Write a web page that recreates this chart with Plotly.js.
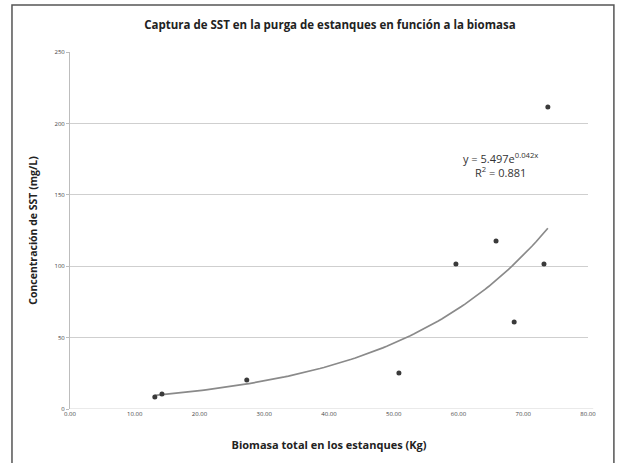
<!DOCTYPE html>
<html>
<head>
<meta charset="utf-8">
<script src="https://cdn.plot.ly/plotly-3.0.1.min.js"></script>
<style>html,body{margin:0;padding:0;background:#fff;}#chart{width:626px;height:463px;}</style>
</head>
<body>
<div id="chart"></div>
<script>
// Data
const biomasa = [13.1, 14.2, 27.3, 50.8, 59.6, 65.8, 68.6, 73.2, 73.8];
const sst = [8.4, 10.5, 20.3, 25.2, 101.5, 117.6, 60.9, 101.5, 211.5];
const xTickVals = [0, 10, 20, 30, 40, 50, 60, 70, 80];
const xTickText = ["0.00", "10.00", "20.00", "30.00", "40.00", "50.00", "60.00", "70.00", "80.00"];
const yTickVals = [0, 50, 100, 150, 200, 250];
const yTickText = ["0", "50", "100", "150", "200", "250"];
// Exponential trendline coefficients shown on the chart (y = a e^(b x))
const trendA = 5.497;
const trendB = 0.0425;

const xMin = Math.min(...biomasa), xMax = Math.max(...biomasa);
const trendX = [], trendY = [];
for (let i = 0; i <= 100; i++) {
  const x = xMin + (xMax - xMin) * i / 100;
  trendX.push(x);
  trendY.push(trendA * Math.exp(trendB * x));
}

const traces = [
  {x: trendX, y: trendY, mode: 'lines', type: 'scatter',
   line: {color: '#8a8a8a', width: 1.7}, hoverinfo: 'skip'},
  {x: biomasa, y: sst, mode: 'markers', type: 'scatter',
   marker: {color: '#3a3a3a', size: 5}}
];

const layout = {
  width: 626, height: 463,
  margin: {l: 70, r: 38, t: 52, b: 54},
  paper_bgcolor: '#ffffff', plot_bgcolor: '#ffffff',
  showlegend: false,
  font: {family: 'Open Sans, DejaVu Sans, sans-serif', color: '#333'},
  title: {text: '<b>Captura de SST en la purga de estanques en función a la biomasa</b>',
    font: {size: 11.5, color: '#222', family: 'Open Sans, sans-serif'},
    x: 0.527, xanchor: 'center', y: 0.947, yanchor: 'middle'},
  xaxis: {range: [0, 80], tickvals: xTickVals, ticktext: xTickText,
    showgrid: false, zeroline: false, showline: false,
    ticks: '', tickfont: {size: 6, color: '#444'},
    title: {text: '<b>Biomasa total en los estanques (Kg)</b>', font: {size: 11, color: '#222'}, standoff: 24}},
  yaxis: {range: [0, 250], tickvals: yTickVals, ticktext: yTickText,
    showgrid: true, gridcolor: '#cfcfcf', gridwidth: 1.3, zeroline: false,
    showline: true, linecolor: '#bdbdbd', linewidth: 1,
    ticks: 'outside', ticklen: 3, tickcolor: '#bdbdbd',
    tickfont: {size: 6, color: '#444'},
    title: {text: '<b>Concentración de SST (mg/L)</b>', font: {size: 10.5, color: '#222'}, standoff: 14}},
  shapes: [
    {type: 'line', xref: 'paper', yref: 'y', x0: 0, x1: 1.01, y0: 0, y1: 0,
     line: {color: '#d5d5d5', width: 1.2}},
    {type: 'rect', xref: 'paper', yref: 'paper', x0: -0.112, x1: 1.05, y0: -0.16, y1: 1.132,
     line: {color: '#555', width: 1.5}, fillcolor: 'rgba(0,0,0,0)', layer: 'below'}
  ],
  annotations: [
    {xref: 'x', yref: 'y', x: 66.5, y: 171, xanchor: 'center', yanchor: 'middle', showarrow: false,
     align: 'center',
     text: 'y = 5.497e<sup>0.042x</sup><br>R<sup>2</sup> = 0.881',
     font: {size: 11, color: '#333'}}
  ]
};

Plotly.newPlot('chart', traces, layout, {displayModeBar: false, staticPlot: true});
</script>
</body>
</html>
